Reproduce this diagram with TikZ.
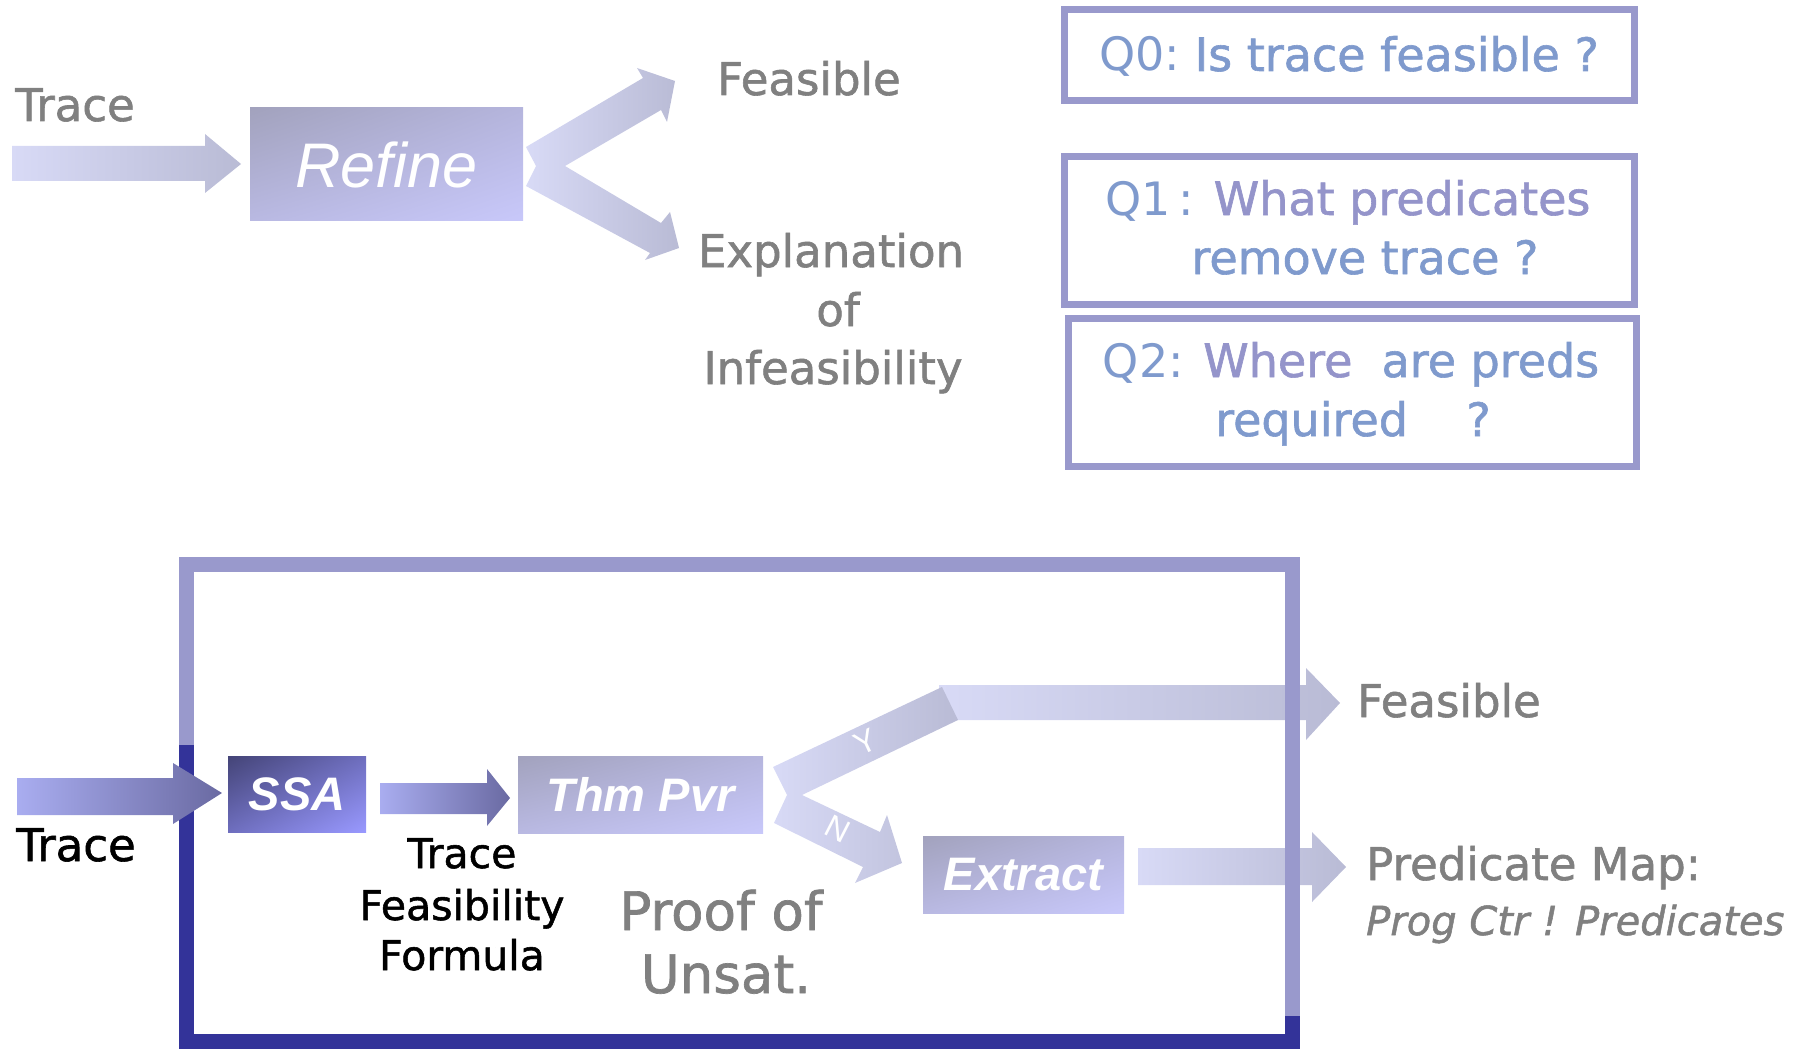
\documentclass[tikz,border=0pt]{standalone}
\usepackage{fontspec}
\setmainfont{DejaVu Sans}[FakeBold=1.3]
\newfontfamily\lightsans{DejaVu Sans}
\newfontfamily\arialf{Liberation Sans}
\usetikzlibrary{shadings}

\definecolor{txtgray}{HTML}{808080}
\definecolor{qframe}{HTML}{9999CC}
\definecolor{qblue}{HTML}{7F9ACD}
\definecolor{qpurple}{HTML}{9494CA}
\definecolor{framedark}{HTML}{333399}
\definecolor{arrowlight}{HTML}{D8DAF6}
\definecolor{arrowgray}{HTML}{B9BBD5}
\definecolor{boxgray}{HTML}{A2A2BD}
\definecolor{boxmidA}{HTML}{B5B5DD}
\definecolor{boxmidB}{HTML}{B9B9E2}
\definecolor{boxlight}{HTML}{C8C8FA}
\definecolor{ssadark}{HTML}{444477}
\definecolor{ssamid}{HTML}{6E6EBE}
\definecolor{ssalight}{HTML}{9999FF}
\definecolor{inlight}{HTML}{A9ADF0}
\definecolor{indark}{HTML}{6A6AA2}

\tikzset{
  procbox/.style={inner sep=0pt, text=white,
    upper left=boxgray, upper right=boxmidA, lower left=boxmidB, lower right=boxlight,
    font=\arialf\bfseries\itshape\fontsize{47}{50}\selectfont},
  ssabox/.style={procbox, upper left=ssadark, upper right=ssamid, lower left=ssamid, lower right=ssalight},
  graylbl/.style={inner sep=0pt, anchor=base, text=txtgray, font=\fontsize{45}{54}\selectfont},
  blacklbl/.style={inner sep=0pt, anchor=base, text=black, font=\fontsize{41}{50}\selectfont},
  prooflbl/.style={graylbl, font=\fontsize{53}{60}\selectfont},
  qbox/.style={draw=qframe, line width=7pt, inner sep=0pt},
  qtxt/.style={inner sep=0pt, anchor=base, text=qblue, font=\fontsize{46}{52}\selectfont},
  ynlbl/.style={inner sep=0pt, text=white, font=\arialf\fontsize{32}{34}\selectfont},
  blockarrow/.style={left color=arrowlight, right color=arrowgray},
  darkarrow/.style={left color=inlight, right color=indark},
}

\begin{document}
\begin{tikzpicture}[x=1pt,y=-1pt]
\useasboundingbox (0,0) rectangle (1812,1051);

% ---------- upper half: refinement overview ----------
\node[graylbl] (tracetop) at (75,121) {Trace};
\shade[blockarrow] (12,146) -- (205,146) -- (205,134) -- (241,164)
  -- (205,193) -- (205,181) -- (12,181) -- cycle;

\node[procbox, shade, minimum width=273pt, minimum height=113pt,
      font=\arialf\itshape\fontsize{63}{66}\selectfont] (refine) at (386.5,164.5) {Refine};

% forked output of Refine
\shade[blockarrow] (526,147) -- (643,78) -- (637,68) -- (675,81) -- (667,122)
  -- (661,110) -- (565,166) -- (661,223) -- (670,212) -- (679,248)
  -- (645,260) -- (650,253) -- (526,186) -- (536,166) -- cycle;

\node[graylbl] (feastop) at (809,95) {Feasible};
\node[graylbl] (expl1) at (831,267) {Explanation};
\node[graylbl] (expl2) at (838,326) {of};
\node[graylbl] (expl3) at (833,384) {Infeasibility};

% question boxes
\draw[qbox] (1064.5,9.5) rectangle (1634.5,100.5);
\draw[qbox] (1064.5,156.5) rectangle (1634.5,304.5);
\draw[qbox] (1068.5,318.5) rectangle (1636.5,466.5);
\node[qtxt] (q0) at (1349,71) {{\lightsans Q0:}\ Is trace feasible ?};
\node[qtxt] (q1a) at (1348,215) {{\lightsans Q1\,:} \textcolor{qpurple}{What predicates}};
\node[qtxt] (q1b) at (1365,274) {remove trace ?};
\node[qtxt] (q2a) at (1351,377) {{\lightsans Q2:} \textcolor{qpurple}{Where}\ \ are preds};
\node[qtxt] (q2b) at (1353,436) {required\ \ \ \ ?};

% ---------- lower half: inside the refinement step ----------
% outputs leaving the frame (drawn below it)
\shade[blockarrow] (939,685) -- (1306,685) -- (1306,668) -- (1340,703)
  -- (1306,740) -- (1306,720) -- (939,720) -- cycle;
\shade[blockarrow] (1138,848) -- (1312,848) -- (1312,832) -- (1346,867)
  -- (1312,902) -- (1312,885) -- (1138,885) -- cycle;

% frame: dark base with the lighter upper part over it
\draw[framedark, line width=15pt] (186.5,564.5) rectangle (1292.5,1041.5);
\draw[qframe, line width=15pt, line join=miter]
  (186.5,745) -- (186.5,564.5) -- (1292.5,564.5) -- (1292.5,1016);

% input trace
\shade[darkarrow] (17,778) -- (173,778) -- (173,763) -- (222,793)
  -- (173,824) -- (173,815) -- (17,815) -- cycle;
\node[graylbl, text=black] (tracebot) at (76,861) {Trace};

\node[ssabox, shade, minimum width=138pt, minimum height=76pt] (ssa) at (297,794) {SSA};

\shade[darkarrow] (380,783) -- (487,783) -- (487,769) -- (510,798)
  -- (487,826) -- (487,814) -- (380,814) -- cycle;

\node[procbox, shade, minimum width=245pt, minimum height=77pt] (thm) at (640.5,794.5) {Thm Pvr};

% Y / N branches of the prover
\shade[blockarrow] (773,767) -- (942,687) -- (958,720) -- (802,795)
  -- (880,832) -- (887,815) -- (902,863) -- (855,883) -- (863,867)
  -- (774,823) -- (787,795) -- cycle;
\node[ynlbl, rotate=25] (ylbl) at (866,742) {Y};
\node[ynlbl, rotate=-27] (nlbl) at (838,829) {N};

\node[procbox, shade, minimum width=201pt, minimum height=77pt] (extract) at (1023.5,874.5) {Extract};

\node[blacklbl] (tf1) at (462,868) {Trace};
\node[blacklbl] (tf2) at (462,920) {Feasibility};
\node[blacklbl] (tf3) at (462,970) {Formula};

\node[prooflbl] (pu1) at (721,930) {Proof of};
\node[prooflbl] (pu2) at (726,993) {Unsat.};

\node[graylbl] (feasbot) at (1449,717) {Feasible};
\node[graylbl, anchor=base west] (pmap) at (1366,880) {Predicate Map:};
\node[graylbl, anchor=base west, font=\itshape\fontsize{40}{48}\selectfont] (pctr) at (1366,935) {Prog Ctr ! Predicates};
\end{tikzpicture}
\end{document}
